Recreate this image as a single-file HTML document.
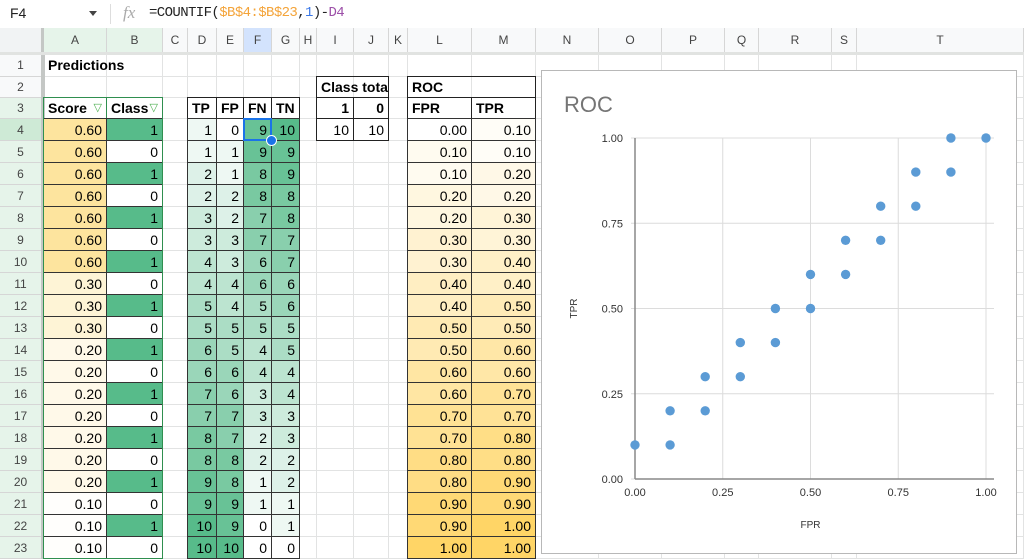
<!DOCTYPE html>
<html><head><meta charset="utf-8">
<style>
html,body{margin:0;padding:0;background:#fff;}
body{width:1024px;height:559px;position:relative;overflow:hidden;font-family:"Liberation Sans",Arial,sans-serif;}
.c{position:absolute;box-sizing:border-box;font-size:14px;color:#000;line-height:20px;white-space:nowrap;overflow:hidden;padding:0 4px;}
.g{position:absolute;background:#e2e3e3;}
.hdr{position:absolute;box-sizing:border-box;font-size:12px;color:#444;text-align:center;}
.b{font-weight:bold;}
.r{text-align:right;}
</style></head>
<body>
<div id="fbar" style="position:absolute;left:0;top:0;width:1024px;height:28px;border-bottom:1px solid #e1e3e1;background:#fff;">
  <div style="position:absolute;left:10px;top:5px;font-size:14px;color:#222;">F4</div>
  <div style="position:absolute;left:89px;top:11px;width:0;height:0;border-left:4px solid transparent;border-right:4px solid transparent;border-top:5px solid #444;"></div>
  <div style="position:absolute;left:110px;top:4px;width:1px;height:20px;background:#ddd;"></div>
  <div style="position:absolute;left:123px;top:3px;font-size:17px;color:#aaa;font-style:italic;font-family:'Liberation Serif',serif;">fx</div>
  <div style="position:absolute;left:149px;top:5px;font-size:14px;font-family:'Liberation Mono',monospace;color:#222;letter-spacing:-0.6px;">=COUNTIF(<span style="color:#f4a43a">$B$4:$B$23</span>,<span style="color:#3b78e7">1</span>)-<span style="color:#9c4fa8">D4</span></div>
</div>
<div id="grid"></div>

<div id="chart" style="position:absolute;left:541px;top:70px;width:476px;height:484px;border:1px solid #b8b8b8;background:#fff;box-sizing:border-box;">
<svg id="svg" width="476" height="484" style="position:absolute;left:-1px;top:-1px;"></svg>
</div>

<script>
// ---- spreadsheet data ----
const scores=[0.6,0.6,0.6,0.6,0.6,0.6,0.6,0.3,0.3,0.3,0.2,0.2,0.2,0.2,0.2,0.2,0.2,0.1,0.1,0.1];
const classes=[1,0,1,0,1,0,1,0,1,0,1,0,1,0,1,0,1,0,1,0];
const tp=[1,1,2,2,3,3,4,4,5,5,6,6,7,7,8,8,9,9,10,10];
const fp=[0,1,1,2,2,3,3,4,4,5,5,6,6,7,7,8,8,9,9,10];
const fn=[9,9,8,8,7,7,6,6,5,5,4,4,3,3,2,2,1,1,0,0];
const tn=[10,9,9,8,8,7,7,6,6,5,5,4,4,3,3,2,2,1,1,0];
// ---- chart data ----
const fpr=[0,0.1,0.1,0.2,0.2,0.3,0.3,0.4,0.4,0.5,0.5,0.6,0.6,0.7,0.7,0.8,0.8,0.9,0.9,1.0];
const tpr=[0.1,0.1,0.2,0.2,0.3,0.3,0.4,0.4,0.5,0.5,0.6,0.6,0.7,0.7,0.8,0.8,0.9,0.9,1.0,1.0];
const xTicks=[0,0.25,0.5,0.75,1];
const yTicks=[0,0.25,0.5,0.75,1];

const cols=[['A',44,107],['B',107,163],['C',163,188],['D',188,217],['E',217,244],['F',244,272],['G',272,300],['H',300,317],['I',317,354],['J',354,389],['K',389,408],['L',408,472],['M',472,536],['N',536,599],['O',599,662],['P',662,725],['Q',725,759],['R',759,832],['S',832,857],['T',857,1024]];
const C={};cols.forEach(c=>C[c[0]]=[c[1],c[2]]);
function rowTop(n){if(n<=1)return 54;if(n==2)return 77;if(n==3)return 98;return 119+(n-4)*22;}
function rowBot(n){return rowTop(n+1);}
const grid=document.getElementById('grid');
function div(style,cls){const d=document.createElement('div');if(cls)d.className=cls;d.style.cssText=style;grid.appendChild(d);return d;}

let h=div('left:0;top:28px;width:1024px;height:26px;background:#f8f9fa;position:absolute;');


let rh=div('left:0;top:54px;width:44px;height:505px;background:#f8f9fa;position:absolute;');


div('left:0;top:28px;width:44px;height:26px;background:#f1f3f4;position:absolute;');
div('left:41px;top:28px;width:4px;height:531px;background:#c4c7c5;position:absolute;');
div('left:0;top:52px;width:1024px;height:3px;background:#e1e3e1;position:absolute;');
cols.forEach(c=>{
  let bg=(c[0]=='A'||c[0]=='B')?'#e6f4ea':(c[0]=='F'?'#d3e3fd':'transparent');
  let d=div(`left:${c[1]}px;top:28px;width:${c[2]-c[1]}px;height:24px;line-height:24px;background:${bg};border-right:1px solid #d6d6d6;`,'hdr');
  d.textContent=c[0];
  
  
});
for(let n=1;n<=23;n++){
  let t=rowTop(n),b=rowBot(n);
  let bg=n==4?'#ceead6':(n>=3?'#e6f4ea':'transparent');
  let d=div(`left:0;top:${t}px;width:41px;height:${b-t}px;line-height:${b-t}px;background:${bg};border-bottom:1px solid #d6d6d6;`,'hdr');
  d.textContent=n;
  
  
  div(`left:45px;top:${b-1}px;width:979px;height:1px;`,'g');
}
cols.forEach(c=>div(`left:${c[2]-1}px;top:54px;width:1px;height:505px;`,'g'));

function mix(a,b,t){return 'rgb('+a.map((v,i)=>Math.round(v+(b[i]-v)*t)).join(',')+')';}
const W=[255,255,255],GR=[87,187,138],YS=[253,228,158],YR=[255,213,102];
function cell(col,n,text,opts){
  opts=opts||{};
  let [l,r]=C[col];if(opts.span)r=C[opts.span][1];
  let t=rowTop(n),b=rowBot(n);
  let st=`left:${l}px;top:${t}px;width:${r-l}px;height:${b-t}px;line-height:${b-t}px;`;
  if(opts.bg)st+=`background:${opts.bg};`;
  if(opts.border)st+=`border:1px solid ${opts.border};margin:-1px 0 0 -1px;width:${r-l+1}px;height:${b-t+1}px;`;
  if(opts.overflow)st+='overflow:visible;';
  let d=div(st,'c'+(opts.bold?' b':'')+(opts.right?' r':''));
  d.textContent=text;
  
  
  return d;
}
cell('A',1,'Predictions',{bold:true,overflow:true,name:'predictions-title'});
let sh=cell('A',3,'Score',{bold:true,border:'#2f8f4f',name:'score-header'});
let ch=cell('B',3,'Class',{bold:true,border:'#2f8f4f',name:'class-header'});
[sh,ch].forEach(e=>{const f=document.createElement('span');f.textContent='\u25BD';f.style.cssText='color:#4caf50;position:absolute;right:4px;font-weight:normal;font-size:11px;background:#fff;padding-left:2px;';e.appendChild(f);});
['TP','FP','FN','TN'].forEach((s,i)=>cell('DEFG'[i],3,s,{bold:true,border:'#222',name:s.toLowerCase()+'-header'}));
cell('I',2,'Class total',{bold:true,border:'#222',span:'J',name:'class-total-header'});
cell('I',3,'1',{bold:true,right:true,border:'#222'});
cell('J',3,'0',{bold:true,right:true,border:'#222'});
cell('I',4,'10',{right:true,border:'#222'});
cell('J',4,'10',{right:true,border:'#222'});
cell('L',2,'ROC',{bold:true,border:'#222',span:'M',name:'roc-table-header'});
cell('L',3,'FPR',{bold:true,border:'#222',name:'fpr-header'});
cell('M',3,'TPR',{bold:true,border:'#222',name:'tpr-header'});
for(let i=0;i<20;i++){
  let n=i+4;
  cell('A',n,scores[i].toFixed(2),{right:true,bg:mix(W,YS,(scores[i]-0.1)/0.5*0.97+0.03),border:'#333'});
  cell('B',n,String(classes[i]),{right:true,bg:classes[i]?'#57bb8a':'#fff',border:'#333'});
  [['D',tp],['E',fp],['F',fn],['G',tn]].forEach(([c,a])=>cell(c,n,String(a[i]),{right:true,bg:mix(W,GR,a[i]/10),border:'#333'}));
  cell('L',n,fpr[i].toFixed(2),{right:true,bg:mix(W,YR,fpr[i]),border:'#333'});
  cell('M',n,tpr[i].toFixed(2),{right:true,bg:mix(W,YR,(tpr[i]-0.1)/0.9*0.95+0.05),border:'#333'});
}
div(`left:${C.A[0]-1}px;top:${rowTop(3)-1}px;width:${C.B[1]-C.A[0]+1}px;height:${rowBot(23)-rowTop(3)+1}px;border:1px solid #2f8f4f;box-sizing:border-box;position:absolute;`);
let sel=div(`left:${C.F[0]-1}px;top:${rowTop(4)-1}px;width:${C.F[1]-C.F[0]+1}px;height:${rowBot(4)-rowTop(4)+1}px;border:2px solid #1a73e8;box-sizing:border-box;position:absolute;`);


let hd=div(`left:${C.F[1]-6}px;top:${rowBot(4)-6}px;width:9px;height:9px;border-radius:50%;background:#1a73e8;border:1px solid #fff;position:absolute;`);



// ---- chart ----
const svg=document.getElementById('svg');const NS='http://www.w3.org/2000/svg';
const X0=634-541+1,X1=985-541+1,Y0=478-70+1,Y1=137-70+1;
const sx=v=>X0+(X1-X0)*v, sy=v=>Y0+(Y1-Y0)*v;
function el(tag,attrs,name,text){const e=document.createElementNS(NS,tag);for(const k in attrs)e.setAttribute(k,attrs[k]);
 
 
 if(text!=null)e.textContent=text;svg.appendChild(e);return e;}
el('text',{x:23,y:42,'font-size':22,fill:'#757575','font-family':'Liberation Sans, sans-serif'},'chart-title','ROC');
yTicks.forEach(v=>{el('line',{x1:X0-4,x2:X1+8,y1:sy(v),y2:sy(v),stroke:'#dcdcdc','stroke-width':1},'y-gridline');
 el('text',{x:X0-12,y:sy(v)+4,'font-size':11,fill:'#333','text-anchor':'end','font-family':'Liberation Sans, sans-serif'},'y-tick-label',v.toFixed(2));});
xTicks.forEach(v=>{el('line',{x1:sx(v),x2:sx(v),y1:Y1,y2:Y0,stroke:'#dcdcdc','stroke-width':1},'x-gridline');
 el('text',{x:sx(v),y:Y0+17,'font-size':11,fill:'#333','text-anchor':'middle','font-family':'Liberation Sans, sans-serif'},'x-tick-label',v.toFixed(2));});
el('line',{x1:X0,x2:X0,y1:Y1,y2:Y0,stroke:'#888','stroke-width':1.5},'y-axis-line');
el('line',{x1:X0,x2:X1+8,y1:Y0,y2:Y0,stroke:'#888','stroke-width':1.5},'x-axis-line');
el('text',{x:(X0+X1)/2,y:Y0+49,'font-size':10,fill:'#333','text-anchor':'middle','font-family':'Liberation Sans, sans-serif'},'x-axis-title','FPR');
el('text',{x:0,y:0,'font-size':10,fill:'#333','text-anchor':'middle','font-family':'Liberation Sans, sans-serif',transform:`translate(${X0-58},${(Y0+Y1)/2}) rotate(-90)`},'y-axis-title','TPR');
for(let i=0;i<fpr.length;i++){el('circle',{cx:sx(fpr[i]),cy:sy(tpr[i]),r:4.7,fill:'#5b9bd5'},'roc-point');}
</script>
</body></html>
